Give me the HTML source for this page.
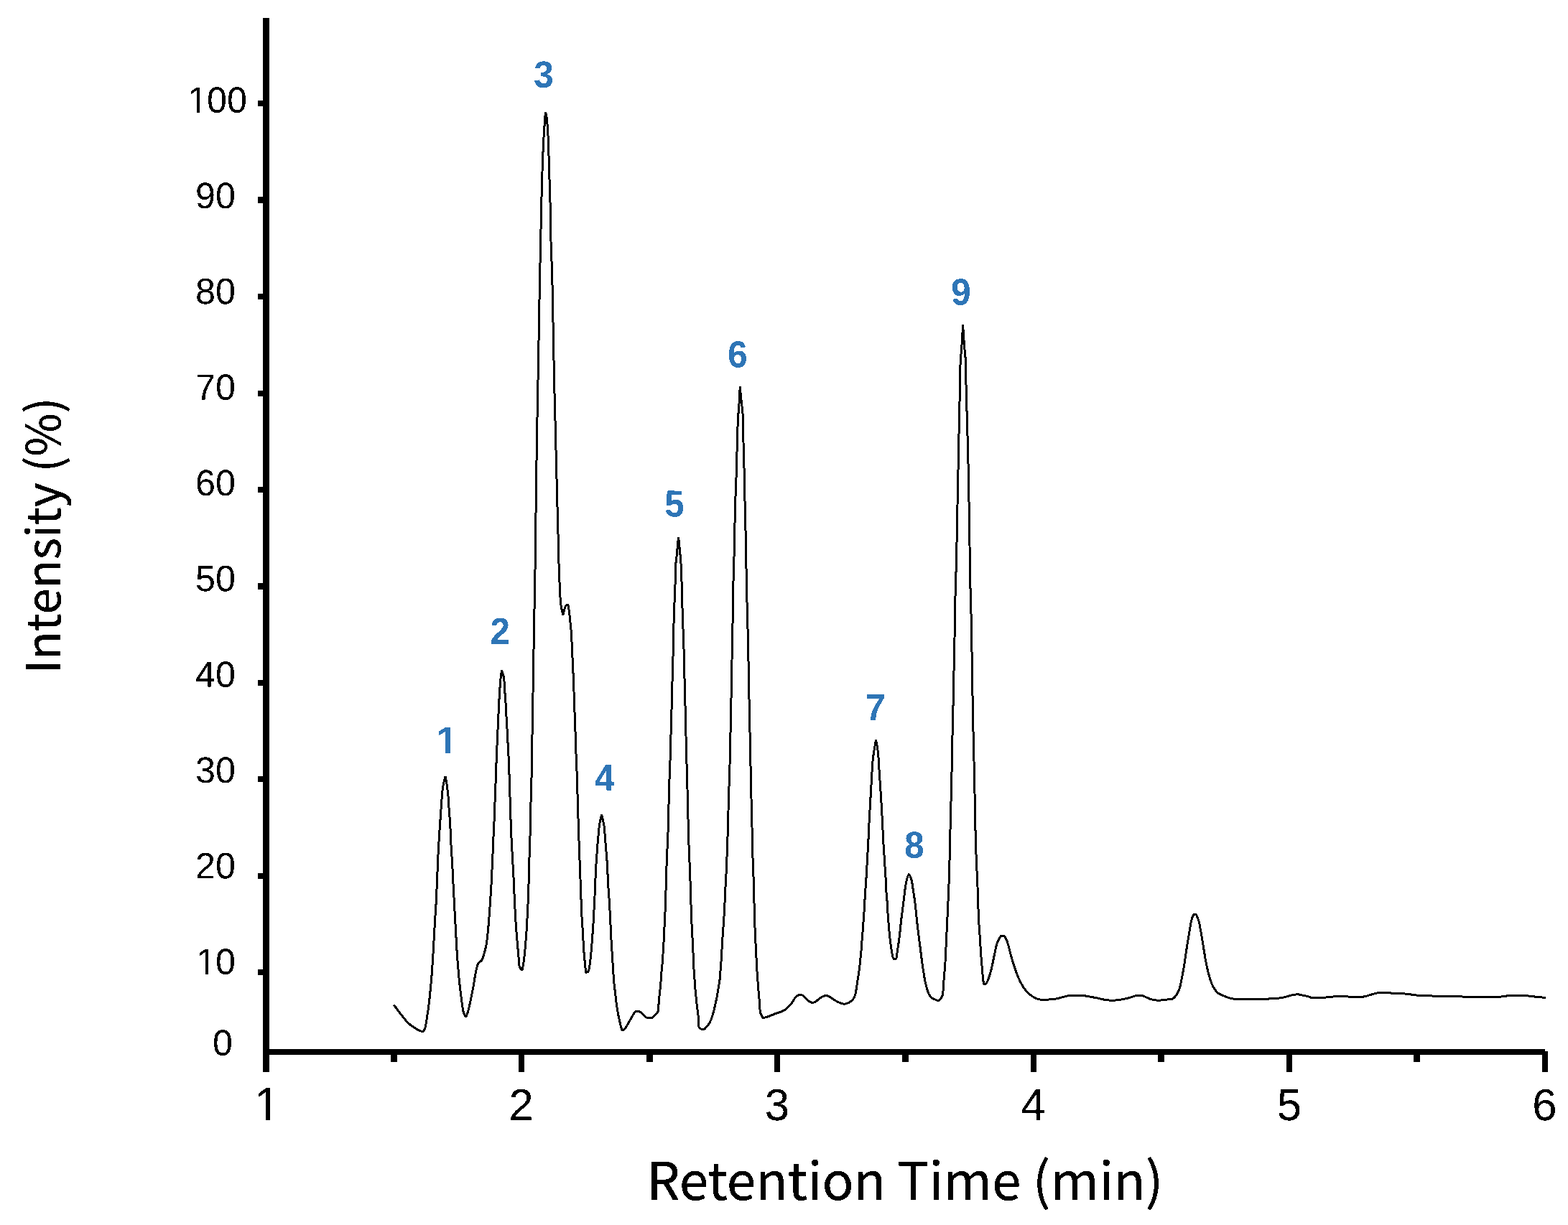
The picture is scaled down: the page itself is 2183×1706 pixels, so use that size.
<!DOCTYPE html>
<html lang="en"><head><meta charset="utf-8">
<title>Chromatogram: Intensity (%) vs Retention Time (min)</title>
<style>
html,body{margin:0;padding:0;background:#fff;}
body{width:2183px;height:1706px;overflow:hidden;}
svg{display:block;}
.ax{fill:#000;}
.yl{font-family:"Liberation Sans",sans-serif;font-size:51.2px;fill:#000;}
.xl{font-family:"Liberation Sans",sans-serif;font-size:63.5px;fill:#000;}
.pk{font-family:"Liberation Sans",sans-serif;font-size:51.0px;font-weight:bold;fill:#2e75b6;}
.tt{font-family:"Noto Sans CJK JP", "Liberation Sans", sans-serif;fill:#000;stroke:#000;stroke-width:0.35;stroke-linejoin:round;}
.e{text-anchor:end;}.m{text-anchor:middle;}
.trace{fill:none;stroke:#000;stroke-width:3.0;stroke-linejoin:bevel;stroke-linecap:butt;}
</style></head><body>
<svg width="2183" height="1706" viewBox="0 0 2183 1706" role="img" aria-label="Chromatogram">
<rect x="0" y="0" width="2183" height="1706" fill="#fff"/>
<defs>
<clipPath id="cy"><path d="M-51.20 -61.44H204.80V25.60H28.48V-5.89H18.35V25.60H13.74V-5.89H-51.20Z"/></clipPath>
<clipPath id="cx"><path d="M-63.50 -76.20H254.00V31.75H35.56V-7.30H21.62V31.75H15.91V-7.30H-63.50Z"/></clipPath>
<clipPath id="cp"><path d="M-51.00 -61.20H204.00V25.50H28.56V-7.14H18.95V25.50H11.86V-7.14H-51.00Z"/></clipPath>
<filter id="bw" filterUnits="userSpaceOnUse" x="0" y="0" width="2183" height="1706" color-interpolation-filters="sRGB"><feComponentTransfer><feFuncA type="discrete" tableValues="0 1"/></feComponentTransfer></filter>
</defs>
<g class="ax" shape-rendering="crispEdges">
<rect x="366" y="25" width="9" height="1468"/>
<rect x="366" y="1461" width="1785" height="8"/>
<rect x="359" y="140" width="8" height="8"/>
<rect x="359" y="274" width="8" height="9"/>
<rect x="359" y="409" width="8" height="8"/>
<rect x="359" y="544" width="8" height="8"/>
<rect x="359" y="678" width="8" height="8"/>
<rect x="359" y="812" width="8" height="9"/>
<rect x="359" y="947" width="8" height="8"/>
<rect x="359" y="1081" width="8" height="8"/>
<rect x="359" y="1216" width="8" height="8"/>
<rect x="359" y="1350" width="8" height="8"/>
<rect x="722" y="1461" width="8" height="32"/>
<rect x="1078" y="1461" width="8" height="32"/>
<rect x="1435" y="1461" width="8" height="32"/>
<rect x="1791" y="1461" width="8" height="32"/>
<rect x="2147" y="1464" width="8" height="29"/>
<rect x="544" y="1461" width="9" height="18"/>
<rect x="900" y="1461" width="9" height="18"/>
<rect x="1256" y="1461" width="9" height="18"/>
<rect x="1612" y="1461" width="9" height="18"/>
<rect x="1968" y="1461" width="9" height="18"/>
</g>
<g filter="url(#bw)">
<g class="yl">
<text transform="translate(260.18 156.70) rotate(0.05) scale(0.98 1)" x="0.92 28.48 56.95" clip-path="url(#cy)">100</text>
<text class="e" transform="translate(327.90 290.03) rotate(0.05) scale(0.98 1)">90</text>
<text class="e" transform="translate(327.90 423.36) rotate(0.05) scale(0.98 1)">80</text>
<text class="e" transform="translate(327.90 556.69) rotate(0.05) scale(0.98 1)">70</text>
<text class="e" transform="translate(327.90 690.02) rotate(0.05) scale(0.98 1)">60</text>
<text class="e" transform="translate(327.90 823.35) rotate(0.05) scale(0.98 1)">50</text>
<text class="e" transform="translate(327.90 956.68) rotate(0.05) scale(0.98 1)">40</text>
<text class="e" transform="translate(327.90 1090.01) rotate(0.05) scale(0.98 1)">30</text>
<text class="e" transform="translate(327.90 1223.34) rotate(0.05) scale(0.98 1)">20</text>
<text transform="translate(272.08 1356.67) rotate(0.05) scale(0.98 1)" x="0.92 28.48" clip-path="url(#cy)">10</text>
<text class="e" transform="translate(323.90 1469.80) rotate(0.05) scale(0.98 1)">0</text>
</g>
<g class="xl">
<text transform="translate(354.30 1560.25) rotate(0.05) scale(1.0 1.02)" clip-path="url(#cx)">1</text>
<text class="m" transform="translate(725.60 1560.25) rotate(0.05) scale(0.9746 1)">2</text>
<text class="m" transform="translate(1082.00 1560.25) rotate(0.05) scale(0.9746 1)">3</text>
<text class="m" transform="translate(1438.30 1560.25) rotate(0.05) scale(0.9746 1)">4</text>
<text class="m" transform="translate(1795.00 1560.25) rotate(0.05) scale(0.9746 1)">5</text>
<text class="m" transform="translate(2150.40 1560.25) rotate(0.05) scale(0.9746 1)">6</text>
</g>
<g class="pk">
<text transform="translate(606.90 1048.90) rotate(0.05) scale(1.07 1)" clip-path="url(#cp)">1</text>
<text class="m" transform="translate(696.20 897.00) rotate(0.05) scale(0.975 1)">2</text>
<text class="m" transform="translate(757.00 121.60) rotate(0.05) scale(0.975 1)">3</text>
<text class="m" transform="translate(842.00 1100.80) rotate(0.05) scale(0.975 1)">4</text>
<text class="m" transform="translate(939.00 719.50) rotate(0.05) scale(0.975 1)">5</text>
<text class="m" transform="translate(1027.00 511.50) rotate(0.05) scale(0.975 1)">6</text>
<text class="m" transform="translate(1219.00 1002.90) rotate(0.05) scale(0.975 1)">7</text>
<text class="m" transform="translate(1273.00 1194.60) rotate(0.05) scale(0.975 1)">8</text>
<text class="m" transform="translate(1338.00 424.60) rotate(0.05) scale(0.975 1)">9</text>
</g>
<text class="tt" transform="translate(900.20 1670.90) scale(1.0045 1)" font-size="72.7">Retention Time (min)</text>
<text class="tt" transform="translate(84.20 938.10) rotate(-90) scale(1.0 1)" font-size="65.3">Intensity (%)</text>
</g>
<path class="trace" shape-rendering="crispEdges" d="M548.4 1399.5C550.1 1401.7 555.2 1408.8 558.4 1412.8C561.6 1416.8 564.4 1420.8 567.4 1423.8C570.4 1426.8 573.1 1428.8 576.4 1430.9C579.7 1433.0 584.9 1436.1 587.4 1436.3C589.9 1436.5 590.4 1435.5 591.6 1432.2C592.8 1428.9 593.6 1422.3 594.5 1416.7C595.4 1411.1 596.2 1405.7 597.1 1398.6C598.0 1391.5 598.9 1382.0 599.6 1374.1C600.4 1366.1 601.0 1359.9 601.6 1350.9C602.2 1341.9 602.9 1331.0 603.5 1320.0C604.1 1309.0 604.8 1296.3 605.4 1285.1C606.0 1273.9 606.9 1262.6 607.4 1252.9C607.9 1243.2 608.1 1234.8 608.4 1227.0C608.7 1219.2 609.1 1213.5 609.4 1206.4C609.7 1199.3 609.9 1191.7 610.3 1184.4C610.7 1177.1 611.2 1169.4 611.6 1162.5C612.0 1155.6 612.4 1150.9 612.9 1143.2C613.4 1135.5 614.2 1124.0 614.8 1116.1C615.4 1108.1 615.8 1101.3 616.7 1095.5C617.6 1089.7 619.5 1083.4 620.0 1081.0C620.3 1082.8 621.2 1086.8 621.9 1091.6C622.6 1096.4 623.6 1103.8 624.1 1109.6C624.6 1115.4 624.7 1120.8 625.1 1126.4C625.5 1132.0 626.0 1137.6 626.4 1143.2C626.8 1148.8 627.0 1153.9 627.3 1159.9C627.6 1165.9 627.8 1173.1 628.1 1179.3C628.4 1185.5 628.9 1191.3 629.3 1197.3C629.7 1203.3 630.0 1209.2 630.3 1215.4C630.6 1221.6 630.7 1225.2 631.2 1234.7C631.7 1244.2 632.6 1260.1 633.2 1272.2C633.9 1284.3 634.5 1296.1 635.1 1307.1C635.7 1318.1 636.2 1327.9 637.0 1338.0C637.8 1348.1 638.7 1359.1 639.6 1367.7C640.5 1376.3 641.3 1382.9 642.2 1389.6C643.1 1396.3 643.8 1403.2 644.8 1407.7C645.8 1412.2 647.8 1415.2 648.4 1416.7C649.0 1415.2 650.8 1411.6 651.9 1407.7C653.0 1403.8 653.9 1399.1 655.1 1393.5C656.3 1387.9 657.8 1380.5 659.0 1374.1C660.2 1367.6 661.1 1360.1 662.2 1354.8C663.3 1349.5 664.0 1345.4 665.4 1342.5C666.8 1339.6 669.2 1339.7 670.6 1337.4C672.0 1335.2 672.7 1332.5 673.8 1329.0C674.9 1325.5 676.1 1320.8 677.0 1316.1C677.9 1311.4 678.4 1306.8 679.0 1300.6C679.6 1294.4 680.4 1285.4 680.9 1278.7C681.4 1272.0 681.7 1268.6 682.2 1260.6C682.7 1252.6 683.6 1239.5 684.1 1230.9C684.6 1222.3 684.8 1216.2 685.1 1208.9C685.4 1201.6 685.8 1194.3 686.1 1187.0C686.4 1179.7 686.7 1172.6 687.0 1165.1C687.3 1157.6 687.8 1149.9 688.1 1141.9C688.4 1134.0 688.7 1125.8 689.0 1117.4C689.3 1109.0 689.7 1100.2 690.0 1091.6C690.3 1083.0 690.6 1073.6 690.9 1065.8C691.2 1058.0 691.4 1051.6 691.7 1045.0C692.0 1038.4 692.3 1032.8 692.6 1026.0C692.9 1019.2 693.2 1011.0 693.5 1004.1C693.8 997.2 694.2 991.0 694.5 984.8C694.8 978.6 695.0 972.7 695.4 966.7C695.8 960.7 696.2 954.1 696.7 948.6C697.2 943.1 698.1 936.1 698.4 933.6C698.9 935.2 700.8 939.3 701.5 943.5C702.2 947.7 702.1 953.6 702.5 959.0C702.9 964.4 703.4 970.1 703.8 975.7C704.2 981.3 704.4 986.7 704.7 992.5C705.0 998.3 705.5 1004.6 705.8 1010.6C706.1 1016.6 706.4 1022.9 706.7 1028.6C707.0 1034.3 707.3 1039.9 707.6 1045.0C707.9 1050.1 708.0 1052.8 708.3 1059.3C708.6 1065.8 708.9 1075.4 709.2 1083.8C709.5 1092.2 709.7 1100.6 710.0 1109.6C710.3 1118.6 710.6 1128.8 710.9 1138.0C711.2 1147.2 711.5 1156.5 711.9 1165.1C712.3 1173.7 712.8 1182.1 713.2 1189.6C713.6 1197.1 714.0 1203.3 714.4 1210.2C714.8 1217.1 715.0 1221.6 715.4 1230.9C715.8 1240.2 716.5 1255.7 717.0 1265.8C717.5 1275.9 718.0 1283.9 718.5 1291.6C719.0 1299.3 719.7 1305.8 720.2 1312.2C720.8 1318.7 721.3 1324.7 721.8 1330.3C722.3 1335.9 722.4 1342.2 723.2 1345.8C724.1 1349.3 726.3 1350.6 726.9 1351.6C727.3 1349.3 728.6 1343.3 729.3 1338.0C730.0 1332.7 730.6 1327.1 731.2 1320.0C731.8 1312.9 732.6 1303.5 733.1 1295.5C733.6 1287.5 734.0 1279.5 734.4 1272.2C734.8 1265.0 735.0 1258.7 735.3 1252.0C735.6 1245.3 735.7 1240.9 736.0 1232.0C736.3 1223.1 736.6 1209.8 736.9 1198.6C737.2 1187.4 737.7 1178.0 738.0 1165.1C738.3 1152.2 738.5 1136.0 738.9 1121.2C739.3 1106.4 739.9 1088.8 740.2 1076.1C740.5 1063.4 740.5 1055.9 740.7 1045.0C740.9 1034.1 741.0 1022.8 741.2 1010.6C741.4 998.4 741.7 984.8 741.9 971.9C742.1 959.0 742.3 946.1 742.5 933.2C742.7 920.3 743.0 907.4 743.2 894.5C743.4 881.6 743.6 866.5 743.8 855.8C744.0 845.0 744.3 842.6 744.5 830.0C744.7 817.4 745.0 793.5 745.2 780.0C745.4 766.5 745.3 765.5 745.5 748.9C745.7 732.3 746.2 703.5 746.5 680.6C746.8 657.7 747.1 631.7 747.4 611.6C747.7 591.5 748.1 579.5 748.5 560.0C748.9 540.5 749.2 514.8 749.6 494.4C750.0 474.0 750.4 456.4 750.7 437.7C751.0 419.0 751.3 396.8 751.6 382.2C751.9 367.6 752.1 364.4 752.4 350.0C752.7 335.6 753.1 312.1 753.5 296.0C753.9 279.9 754.1 266.0 754.5 253.5C754.9 241.0 755.3 229.8 755.6 221.2C755.9 212.6 756.2 208.6 756.5 201.9C756.8 195.2 757.1 188.9 757.6 181.3C758.1 173.7 759.1 160.3 759.4 156.1C759.7 157.3 760.6 160.7 761.0 163.2C761.4 165.7 761.5 168.4 761.7 171.0C762.0 173.6 762.2 174.0 762.5 178.7C762.8 183.4 763.1 190.5 763.4 199.3C763.7 208.1 764.2 220.8 764.5 231.6C764.8 242.3 765.1 253.4 765.4 263.8C765.7 274.2 766.1 282.1 766.4 294.1C766.7 306.1 766.8 325.9 767.0 336.0C767.2 346.1 767.3 347.9 767.6 355.0C767.9 362.1 768.3 367.4 768.6 378.4C768.9 389.4 769.2 406.5 769.5 420.9C769.8 435.3 770.0 449.8 770.3 464.8C770.6 479.9 770.9 495.3 771.2 511.2C771.5 527.1 771.9 544.6 772.3 560.0C772.7 575.4 773.1 589.7 773.5 603.8C773.9 617.9 774.1 631.6 774.4 644.5C774.7 657.4 775.1 669.1 775.4 681.2C775.7 693.3 776.0 705.0 776.3 717.3C776.6 729.5 777.0 744.2 777.3 754.7C777.5 765.2 777.4 767.5 777.8 780.0C778.2 792.5 779.3 819.3 779.9 830.0C780.5 840.7 780.6 839.8 781.2 844.2C781.9 848.6 783.4 854.4 783.8 856.4C784.2 854.8 785.6 849.0 786.4 846.8C787.1 844.5 787.5 843.5 788.3 842.9C789.0 842.2 790.2 841.6 790.9 842.9C791.5 844.2 791.7 847.2 792.2 850.6C792.7 854.0 793.2 858.3 793.7 863.5C794.2 868.7 795.0 875.1 795.4 881.6C795.8 888.1 796.1 895.3 796.4 902.2C796.7 909.1 797.0 915.6 797.3 922.9C797.6 930.2 798.1 937.9 798.4 946.1C798.7 954.3 799.0 963.3 799.3 971.9C799.6 980.5 799.9 989.1 800.2 997.7C800.5 1006.3 801.0 1016.4 801.2 1023.4C801.4 1030.5 801.3 1031.7 801.6 1040.0C801.9 1048.3 802.6 1062.5 803.0 1073.5C803.4 1084.5 803.7 1095.3 804.0 1105.8C804.3 1116.3 804.6 1126.4 804.9 1136.7C805.2 1147.0 805.6 1158.0 805.9 1167.7C806.2 1177.4 806.5 1185.3 806.9 1194.8C807.2 1204.2 807.7 1216.9 808.0 1224.4C808.3 1231.9 808.3 1232.2 808.6 1240.0C808.9 1247.8 809.3 1262.4 809.7 1271.0C810.1 1279.6 810.6 1285.2 811.0 1291.6C811.4 1298.0 811.6 1303.6 812.0 1309.6C812.4 1315.6 812.7 1322.1 813.1 1327.7C813.5 1333.3 814.2 1338.9 814.6 1343.2C815.0 1347.5 815.2 1351.7 815.5 1353.5C815.8 1355.3 815.8 1354.4 816.5 1354.1C817.2 1353.8 818.7 1354.5 819.6 1351.6C820.5 1348.7 821.2 1342.4 821.9 1336.7C822.6 1331.0 823.3 1323.6 823.8 1317.4C824.3 1311.2 824.7 1305.1 825.1 1299.3C825.5 1293.5 825.9 1288.2 826.2 1282.6C826.5 1277.0 826.8 1271.6 827.1 1265.8C827.4 1260.0 827.7 1253.7 828.0 1247.7C828.3 1241.7 828.4 1236.1 828.7 1229.6C829.0 1223.1 829.4 1214.7 829.7 1208.9C830.0 1203.1 830.3 1199.3 830.6 1194.8C830.9 1190.3 831.2 1186.2 831.5 1181.9C831.8 1177.6 832.2 1173.3 832.6 1169.0C833.0 1164.7 833.2 1160.0 833.6 1156.1C834.0 1152.2 834.5 1149.3 835.1 1145.8C835.8 1142.2 837.1 1136.6 837.5 1134.8C837.9 1136.2 839.1 1140.3 839.7 1143.2C840.3 1146.1 840.9 1148.8 841.3 1152.2C841.7 1155.6 841.9 1159.9 842.2 1163.8C842.5 1167.7 842.8 1171.3 843.1 1175.4C843.4 1179.5 843.9 1184.0 844.2 1188.3C844.6 1192.6 844.9 1196.0 845.2 1201.2C845.5 1206.4 845.8 1213.1 846.1 1219.3C846.4 1225.5 846.7 1232.3 847.1 1238.6C847.5 1244.8 848.0 1250.1 848.4 1256.8C848.8 1263.5 849.2 1270.3 849.6 1278.7C850.0 1287.1 850.5 1298.9 850.9 1307.1C851.3 1315.3 851.8 1320.8 852.2 1327.7C852.6 1334.6 853.1 1341.6 853.5 1348.3C853.9 1355.0 854.3 1361.7 854.8 1367.7C855.3 1373.7 856.1 1378.8 856.7 1384.4C857.4 1390.0 858.0 1396.0 858.7 1401.2C859.5 1406.4 860.4 1411.1 861.2 1415.4C862.1 1419.7 863.0 1423.7 863.8 1427.0C864.6 1430.3 865.7 1434.0 866.1 1435.4C866.8 1434.9 868.8 1434.1 870.3 1432.2C871.8 1430.3 873.8 1426.5 875.4 1423.8C877.0 1421.1 878.5 1418.4 879.9 1416.0C881.3 1413.6 882.4 1410.9 883.8 1409.6C885.2 1408.3 886.9 1408.2 888.3 1408.3C889.7 1408.4 890.9 1409.1 892.2 1410.0C893.5 1410.9 894.8 1412.3 896.1 1413.5C897.4 1414.7 898.5 1416.2 899.9 1416.9C901.3 1417.7 903.3 1418.0 904.8 1418.0C906.3 1418.0 907.7 1417.6 909.0 1416.7C910.3 1415.8 911.6 1414.2 912.8 1412.8C914.0 1411.4 915.4 1410.9 916.1 1408.3C916.8 1405.7 916.8 1400.8 917.1 1397.3C917.4 1393.8 917.6 1390.7 918.0 1387.0C918.4 1383.3 918.9 1379.5 919.3 1375.4C919.7 1371.3 920.0 1366.6 920.3 1362.5C920.6 1358.4 920.8 1355.0 921.2 1350.9C921.6 1346.8 922.2 1342.3 922.5 1338.0C922.8 1333.7 922.9 1330.0 923.2 1325.1C923.5 1320.2 923.9 1314.4 924.2 1308.4C924.5 1302.4 924.8 1295.7 925.1 1289.0C925.4 1282.3 925.8 1274.6 926.1 1268.4C926.4 1262.2 926.5 1259.2 926.7 1252.0C926.9 1244.8 927.1 1235.2 927.4 1225.0C927.7 1214.8 928.2 1201.3 928.6 1190.9C929.0 1180.5 929.5 1172.8 929.9 1162.5C930.3 1152.2 930.5 1141.5 930.8 1129.0C931.1 1116.5 931.6 1097.5 931.9 1087.7C932.2 1077.9 932.5 1076.6 932.7 1070.0C932.9 1063.4 933.0 1058.4 933.3 1048.3C933.6 1038.2 934.0 1022.1 934.4 1009.6C934.8 997.1 935.1 985.5 935.4 973.5C935.7 961.5 936.0 949.4 936.3 937.4C936.6 925.4 937.1 912.7 937.4 901.3C937.7 889.9 937.8 878.8 938.0 868.9C938.2 859.0 938.6 850.8 938.9 841.8C939.2 832.8 939.7 823.6 940.0 814.8C940.3 806.0 940.3 795.5 940.6 789.0C940.9 782.5 941.5 780.0 941.9 776.1C942.3 772.2 942.5 770.4 942.9 765.7C943.3 761.0 944.2 750.7 944.5 747.7C944.8 750.3 945.7 758.9 946.1 763.2C946.5 767.5 946.8 769.6 947.1 773.5C947.4 777.4 947.8 780.4 948.1 786.4C948.4 792.4 948.7 800.1 949.0 809.6C949.3 819.1 949.6 832.8 949.9 843.1C950.2 853.4 950.5 865.4 950.7 871.5C950.9 877.6 951.0 873.3 951.3 880.0C951.5 886.7 951.9 900.1 952.2 911.6C952.5 923.1 952.8 936.5 953.1 949.0C953.4 961.5 953.8 973.7 954.1 986.4C954.4 999.1 954.7 1012.8 955.0 1025.1C955.3 1037.4 955.6 1047.6 955.9 1060.0C956.2 1072.4 956.7 1086.5 957.0 1099.3C957.3 1112.1 957.6 1124.2 957.9 1136.7C958.2 1149.2 958.5 1162.7 958.9 1174.1C959.3 1185.5 959.8 1195.0 960.2 1205.1C960.6 1215.2 961.0 1225.0 961.3 1234.7C961.6 1244.4 961.8 1254.2 962.1 1263.2C962.4 1272.2 962.8 1281.3 963.1 1289.0C963.5 1296.7 963.9 1302.9 964.2 1309.6C964.5 1316.3 964.8 1322.3 965.1 1329.0C965.4 1335.7 965.7 1343.8 966.0 1349.6C966.3 1355.4 966.7 1359.1 967.0 1363.8C967.3 1368.5 967.6 1373.7 968.0 1378.0C968.4 1382.3 968.8 1385.5 969.2 1389.6C969.6 1393.7 970.1 1398.8 970.5 1402.5C970.9 1406.2 971.5 1408.5 971.8 1411.5C972.1 1414.5 972.2 1417.6 972.4 1420.6C972.6 1423.6 972.4 1427.6 972.8 1429.6C973.2 1431.6 973.8 1431.9 974.7 1432.5C975.6 1433.1 976.9 1433.4 978.0 1433.4C979.1 1433.5 980.1 1433.5 981.2 1432.8C982.3 1432.0 983.3 1430.2 984.4 1428.9C985.5 1427.6 986.6 1426.7 987.6 1425.1C988.6 1423.5 989.3 1421.6 990.2 1419.3C991.1 1417.0 992.0 1414.1 992.8 1411.5C993.5 1408.9 994.1 1406.6 994.7 1403.8C995.4 1401.0 996.1 1397.8 996.7 1394.8C997.4 1391.8 998.0 1389.2 998.6 1385.7C999.2 1382.2 999.9 1377.8 1000.5 1374.1C1001.1 1370.4 1001.7 1367.7 1002.1 1363.8C1002.5 1359.9 1002.8 1355.2 1003.1 1350.9C1003.4 1346.6 1003.8 1342.7 1004.1 1338.0C1004.4 1333.3 1004.7 1327.7 1005.0 1322.5C1005.3 1317.3 1005.6 1312.2 1005.9 1307.1C1006.2 1301.9 1006.6 1296.8 1007.0 1291.6C1007.4 1286.4 1007.7 1281.5 1008.0 1276.1C1008.3 1270.7 1008.6 1265.8 1008.9 1259.3C1009.2 1252.8 1009.5 1244.8 1009.9 1237.3C1010.3 1229.8 1010.8 1221.8 1011.2 1214.1C1011.6 1206.4 1011.8 1199.5 1012.1 1190.9C1012.4 1182.3 1012.8 1172.8 1013.1 1162.5C1013.4 1152.2 1013.7 1140.2 1014.0 1129.0C1014.3 1117.8 1014.7 1106.2 1015.0 1095.5C1015.3 1084.8 1015.6 1078.3 1016.0 1065.1C1016.4 1051.8 1016.8 1032.1 1017.1 1016.0C1017.5 999.9 1017.8 984.4 1018.1 968.3C1018.4 952.2 1018.7 934.7 1019.0 919.3C1019.3 903.9 1019.6 891.5 1019.9 876.0C1020.2 860.5 1020.3 842.4 1020.6 826.4C1020.9 810.4 1021.5 794.9 1021.9 779.9C1022.3 764.9 1022.5 749.6 1022.8 736.1C1023.1 722.6 1023.5 709.7 1023.8 698.7C1024.1 687.7 1024.4 675.8 1024.6 670.0C1024.8 664.2 1024.8 671.3 1025.1 663.8C1025.3 656.3 1025.8 636.7 1026.1 625.1C1026.4 613.5 1026.7 602.1 1027.0 594.1C1027.3 586.1 1027.6 582.8 1027.9 577.4C1028.2 572.0 1028.6 568.5 1029.0 561.9C1029.4 555.3 1030.1 542.0 1030.3 538.0C1030.5 540.9 1031.3 550.6 1031.8 555.4C1032.3 560.2 1032.7 563.3 1033.1 567.0C1033.5 570.7 1033.8 569.2 1034.1 577.4C1034.4 585.6 1034.7 603.2 1035.0 616.1C1035.3 629.0 1035.8 645.7 1036.1 654.7C1036.4 663.7 1036.5 663.5 1036.6 670.0C1036.7 676.5 1036.7 682.0 1036.9 693.5C1037.1 705.0 1037.7 723.2 1038.0 738.7C1038.3 754.2 1038.6 770.5 1038.9 786.4C1039.2 802.3 1039.6 821.5 1039.9 834.1C1040.2 846.7 1040.4 854.0 1040.6 862.0C1040.8 870.0 1040.9 870.5 1041.2 881.9C1041.5 893.3 1041.9 914.2 1042.2 930.3C1042.5 946.4 1042.8 962.4 1043.1 978.6C1043.4 994.8 1043.9 1012.2 1044.2 1027.7C1044.5 1043.2 1044.8 1057.4 1045.1 1071.5C1045.4 1085.6 1045.7 1098.8 1046.0 1112.2C1046.3 1125.7 1046.7 1138.9 1047.0 1152.2C1047.3 1165.5 1047.5 1180.0 1047.9 1192.2C1048.3 1204.5 1048.8 1213.4 1049.2 1225.7C1049.6 1238.0 1049.9 1254.8 1050.2 1265.8C1050.5 1276.8 1050.7 1283.0 1051.0 1291.6C1051.3 1300.2 1051.8 1309.7 1052.2 1317.4C1052.6 1325.1 1052.9 1331.5 1053.2 1338.0C1053.5 1344.5 1053.8 1350.3 1054.2 1356.1C1054.6 1361.9 1055.0 1367.4 1055.4 1372.8C1055.8 1378.2 1056.4 1383.6 1056.8 1388.3C1057.2 1393.0 1057.4 1397.5 1057.7 1401.2C1058.0 1404.9 1057.8 1407.5 1058.6 1410.2C1059.3 1413.0 1061.6 1416.5 1062.2 1417.7C1063.3 1417.4 1065.9 1417.0 1068.7 1416.0C1071.5 1415.0 1075.2 1413.4 1079.0 1411.9C1082.8 1410.5 1087.6 1409.5 1091.3 1407.3C1095.0 1405.1 1098.2 1401.6 1100.9 1398.6C1103.6 1395.5 1105.7 1391.1 1107.4 1389.0C1109.1 1386.9 1109.6 1386.5 1111.2 1386.0C1112.8 1385.5 1115.1 1385.1 1117.1 1386.0C1119.0 1386.9 1121.1 1389.9 1122.9 1391.5C1124.7 1393.1 1126.5 1394.6 1128.0 1395.4C1129.5 1396.2 1130.6 1396.4 1131.9 1396.3C1133.2 1396.2 1134.1 1395.9 1135.8 1394.8C1137.5 1393.7 1140.0 1391.0 1142.2 1389.6C1144.4 1388.2 1146.9 1387.0 1148.7 1386.6C1150.5 1386.2 1151.5 1386.6 1153.2 1387.3C1154.9 1388.0 1157.0 1389.7 1159.0 1390.9C1161.0 1392.2 1163.2 1393.7 1165.4 1394.8C1167.6 1395.9 1170.0 1397.1 1171.9 1397.6C1173.8 1398.1 1175.3 1398.3 1177.0 1398.0C1178.7 1397.7 1180.5 1397.0 1182.2 1396.0C1183.9 1395.0 1185.9 1393.9 1187.3 1392.2C1188.7 1390.5 1189.7 1388.5 1190.6 1385.7C1191.5 1382.9 1191.9 1379.3 1192.5 1375.4C1193.1 1371.5 1193.8 1366.8 1194.4 1362.5C1195.1 1358.2 1195.8 1354.1 1196.4 1349.6C1197.0 1345.1 1197.4 1339.9 1197.9 1335.4C1198.4 1330.9 1198.8 1327.2 1199.2 1322.5C1199.6 1317.8 1199.8 1312.2 1200.2 1307.1C1200.6 1301.9 1201.1 1297.2 1201.5 1291.6C1201.9 1286.0 1202.4 1279.3 1202.8 1273.5C1203.2 1267.7 1203.5 1262.4 1203.8 1256.8C1204.1 1251.2 1204.4 1244.3 1204.7 1240.0C1205.0 1235.7 1205.2 1236.1 1205.5 1231.2C1205.8 1226.3 1206.3 1217.9 1206.7 1210.6C1207.1 1203.3 1207.6 1194.6 1208.0 1187.3C1208.4 1180.0 1208.8 1173.6 1209.1 1166.7C1209.4 1159.8 1209.6 1153.4 1210.0 1146.1C1210.4 1138.8 1210.9 1130.2 1211.3 1122.9C1211.7 1115.6 1212.1 1109.0 1212.5 1102.2C1212.9 1095.4 1213.3 1087.4 1213.6 1081.9C1213.9 1076.4 1214.1 1073.3 1214.4 1069.0C1214.7 1064.7 1214.9 1060.4 1215.4 1056.1C1215.9 1051.8 1216.6 1047.5 1217.3 1043.2C1218.0 1038.9 1219.1 1032.5 1219.5 1030.3C1219.8 1032.0 1220.9 1036.7 1221.5 1040.6C1222.1 1044.5 1222.5 1048.8 1222.9 1053.5C1223.3 1058.2 1223.5 1064.3 1223.8 1069.0C1224.1 1073.7 1224.4 1077.2 1224.7 1081.9C1225.0 1086.6 1225.4 1091.9 1225.7 1097.3C1226.0 1102.7 1226.5 1108.5 1226.8 1114.1C1227.1 1119.7 1227.4 1125.5 1227.7 1130.9C1228.0 1136.3 1228.3 1140.8 1228.6 1146.3C1228.9 1151.8 1229.0 1157.7 1229.3 1164.1C1229.6 1170.5 1230.2 1177.9 1230.6 1184.8C1231.0 1191.7 1231.5 1198.8 1231.9 1205.4C1232.3 1212.1 1232.9 1218.9 1233.2 1224.7C1233.5 1230.5 1233.5 1234.9 1233.8 1240.0C1234.1 1245.1 1234.7 1249.5 1235.1 1255.5C1235.5 1261.5 1235.8 1269.4 1236.3 1276.1C1236.8 1282.8 1237.4 1289.5 1237.9 1295.5C1238.5 1301.5 1239.0 1307.3 1239.6 1312.2C1240.2 1317.1 1240.9 1321.4 1241.5 1325.1C1242.1 1328.8 1242.8 1332.3 1243.4 1334.1C1244.0 1335.9 1244.3 1335.6 1245.1 1335.7C1245.8 1335.8 1247.2 1336.6 1247.9 1334.8C1248.6 1333.0 1248.7 1328.9 1249.2 1325.1C1249.8 1321.3 1250.6 1316.9 1251.2 1312.2C1251.8 1307.5 1252.5 1302.3 1253.1 1296.7C1253.7 1291.1 1254.3 1284.3 1255.0 1278.7C1255.7 1273.1 1256.3 1268.4 1257.0 1263.2C1257.7 1258.0 1258.4 1251.6 1258.9 1247.7C1259.4 1243.8 1259.4 1242.8 1259.8 1240.0C1260.2 1237.2 1260.7 1234.0 1261.2 1231.2C1261.7 1228.4 1262.1 1225.7 1262.8 1223.4C1263.5 1221.1 1264.5 1217.8 1265.4 1217.6C1266.3 1217.4 1267.2 1220.2 1268.0 1222.2C1268.8 1224.2 1269.4 1227.1 1269.9 1229.9C1270.4 1232.7 1270.6 1234.6 1271.2 1238.9C1271.8 1243.2 1273.0 1249.7 1273.7 1255.5C1274.5 1261.3 1275.1 1267.5 1275.7 1273.5C1276.3 1279.5 1276.8 1285.1 1277.6 1291.6C1278.3 1298.0 1279.3 1305.3 1280.2 1312.2C1281.1 1319.1 1282.0 1326.5 1282.8 1332.9C1283.6 1339.4 1284.4 1345.3 1285.3 1350.9C1286.2 1356.5 1287.0 1362.1 1287.9 1366.4C1288.8 1370.7 1289.6 1373.7 1290.5 1376.7C1291.4 1379.7 1292.0 1382.2 1293.1 1384.4C1294.2 1386.6 1295.6 1388.3 1297.0 1389.6C1298.4 1390.8 1300.0 1391.2 1301.6 1391.9C1303.2 1392.6 1305.3 1393.9 1306.8 1393.5C1308.3 1393.1 1309.6 1391.1 1310.6 1389.6C1311.6 1388.1 1312.1 1387.4 1312.6 1384.4C1313.1 1381.4 1313.2 1375.8 1313.5 1371.5C1313.8 1367.2 1314.1 1363.3 1314.5 1358.6C1314.9 1353.9 1315.4 1349.0 1315.8 1343.2C1316.2 1337.4 1316.5 1330.2 1316.8 1323.8C1317.1 1317.3 1317.4 1311.0 1317.7 1304.5C1318.0 1298.0 1318.3 1292.0 1318.6 1285.1C1318.9 1278.2 1319.4 1270.2 1319.7 1263.2C1320.0 1256.2 1320.2 1249.6 1320.5 1243.0C1320.8 1236.4 1321.0 1232.0 1321.3 1223.4C1321.6 1214.8 1321.9 1201.9 1322.2 1191.2C1322.5 1180.5 1322.6 1170.8 1322.9 1159.0C1323.2 1147.2 1323.6 1133.5 1323.9 1120.5C1324.2 1107.5 1324.6 1094.4 1324.9 1081.0C1325.2 1067.6 1325.4 1053.5 1325.7 1040.0C1326.0 1026.5 1326.2 1010.8 1326.5 1000.0C1326.8 989.2 1327.0 985.1 1327.2 975.0C1327.4 964.9 1327.6 953.8 1327.9 939.3C1328.2 924.8 1328.7 904.8 1329.0 887.7C1329.3 870.6 1329.6 850.6 1329.9 836.8C1330.2 823.0 1330.3 813.7 1330.6 805.0C1330.9 796.3 1331.2 796.9 1331.5 784.7C1331.8 772.5 1332.1 749.3 1332.4 731.9C1332.7 714.5 1333.2 696.6 1333.5 680.3C1333.8 663.9 1334.1 648.0 1334.4 633.8C1334.7 619.6 1334.9 608.1 1335.2 595.0C1335.5 581.9 1335.8 568.7 1336.1 555.4C1336.3 542.1 1336.4 525.7 1336.7 515.4C1337.0 505.1 1337.6 500.2 1338.0 493.5C1338.4 486.8 1338.9 482.3 1339.3 475.4C1339.7 468.5 1340.4 456.1 1340.6 452.2C1340.8 455.6 1341.5 466.7 1341.9 472.9C1342.3 479.1 1342.8 484.5 1343.2 489.6C1343.6 494.8 1344.1 495.4 1344.4 503.8C1344.7 512.2 1344.8 526.4 1345.1 539.9C1345.4 553.4 1346.0 572.0 1346.4 585.0C1346.8 598.0 1347.0 605.6 1347.3 617.7C1347.6 629.8 1348.0 642.4 1348.3 657.7C1348.6 673.0 1348.9 692.2 1349.2 709.3C1349.5 726.4 1349.8 744.2 1350.0 760.2C1350.2 776.2 1350.2 788.0 1350.6 805.0C1351.0 822.0 1351.8 843.9 1352.2 861.9C1352.6 879.9 1352.8 896.0 1353.1 912.8C1353.4 929.6 1353.6 945.8 1353.9 962.5C1354.2 979.2 1354.5 1002.4 1354.8 1012.8C1355.0 1023.2 1355.2 1017.1 1355.4 1025.0C1355.6 1032.9 1355.7 1046.7 1356.0 1060.0C1356.3 1073.3 1356.7 1089.6 1357.0 1105.0C1357.3 1120.4 1357.6 1138.8 1357.9 1152.5C1358.2 1166.2 1358.5 1176.5 1358.9 1187.3C1359.3 1198.0 1359.8 1208.2 1360.2 1217.0C1360.6 1225.8 1360.9 1231.9 1361.2 1240.0C1361.5 1248.1 1361.7 1258.1 1362.0 1265.8C1362.3 1273.5 1362.5 1280.0 1362.9 1286.4C1363.3 1292.9 1363.8 1298.9 1364.2 1304.5C1364.6 1310.1 1364.8 1315.1 1365.1 1320.0C1365.4 1324.9 1365.7 1329.2 1366.1 1334.1C1366.5 1339.0 1367.0 1344.6 1367.4 1349.6C1367.8 1354.5 1368.3 1360.3 1368.7 1363.8C1369.1 1367.2 1369.2 1369.2 1369.6 1370.3C1370.0 1371.4 1370.6 1370.6 1371.2 1370.5C1371.8 1370.4 1372.3 1370.9 1373.2 1369.6C1374.1 1368.3 1375.3 1365.4 1376.4 1362.5C1377.5 1359.6 1378.6 1355.9 1379.6 1352.2C1380.6 1348.5 1381.3 1344.7 1382.2 1340.6C1383.1 1336.5 1383.9 1331.8 1384.8 1327.7C1385.7 1323.6 1386.6 1319.1 1387.4 1316.1C1388.2 1313.1 1388.9 1311.6 1389.9 1309.6C1390.9 1307.5 1392.2 1304.9 1393.2 1303.8C1394.2 1302.7 1395.0 1303.2 1395.8 1303.2C1396.6 1303.2 1397.3 1302.7 1398.3 1303.8C1399.3 1304.9 1400.6 1307.3 1401.6 1309.6C1402.6 1311.9 1403.2 1314.4 1404.1 1317.4C1404.9 1320.4 1405.7 1324.1 1406.7 1327.7C1407.7 1331.3 1408.7 1335.4 1409.9 1339.3C1411.1 1343.2 1412.5 1347.2 1413.8 1350.9C1415.1 1354.6 1416.2 1357.8 1417.7 1361.2C1419.2 1364.6 1421.1 1368.5 1422.8 1371.5C1424.5 1374.5 1426.3 1377.1 1428.0 1379.3C1429.7 1381.5 1431.3 1382.8 1433.2 1384.4C1435.1 1386.0 1437.2 1387.8 1439.6 1389.0C1441.9 1390.2 1444.3 1391.4 1447.3 1391.9C1450.3 1392.4 1453.8 1392.4 1457.7 1392.2C1461.6 1392.0 1466.7 1391.6 1470.6 1390.9C1474.5 1390.2 1477.7 1389.0 1480.9 1388.3C1484.1 1387.5 1485.6 1386.7 1489.9 1386.4C1494.2 1386.1 1502.2 1386.1 1506.7 1386.4C1511.2 1386.7 1513.3 1387.4 1517.0 1388.0C1520.7 1388.6 1525.2 1389.5 1528.6 1390.2C1532.0 1390.9 1534.5 1391.7 1537.6 1392.2C1540.7 1392.7 1543.8 1393.1 1547.0 1393.2C1550.2 1393.3 1552.8 1393.2 1557.0 1392.6C1561.2 1392.0 1568.2 1390.6 1572.2 1389.6C1576.2 1388.6 1578.3 1387.1 1581.3 1386.6C1584.3 1386.1 1587.5 1386.0 1590.3 1386.6C1593.1 1387.1 1595.6 1389.0 1598.0 1389.9C1600.4 1390.8 1601.9 1391.7 1604.5 1392.2C1607.1 1392.8 1610.5 1393.2 1613.5 1393.2C1616.5 1393.2 1619.4 1392.6 1622.5 1392.2C1625.6 1391.8 1629.8 1392.0 1632.2 1391.1C1634.6 1390.2 1635.3 1388.8 1636.7 1387.0C1638.1 1385.2 1639.5 1383.0 1640.6 1380.6C1641.7 1378.2 1642.5 1375.6 1643.2 1372.8C1644.0 1370.0 1644.5 1367.0 1645.1 1363.8C1645.7 1360.6 1646.3 1357.2 1647.0 1353.5C1647.7 1349.8 1648.3 1346.0 1649.0 1341.9C1649.7 1337.8 1650.3 1333.3 1650.9 1329.0C1651.5 1324.7 1652.2 1320.2 1652.8 1316.1C1653.4 1312.0 1654.1 1308.4 1654.8 1304.5C1655.5 1300.6 1656.1 1296.6 1656.7 1292.9C1657.3 1289.2 1657.8 1285.6 1658.6 1282.6C1659.3 1279.6 1660.2 1276.3 1661.2 1274.8C1662.2 1273.2 1663.5 1272.9 1664.5 1273.3C1665.5 1273.7 1666.2 1275.4 1667.0 1277.4C1667.8 1279.4 1668.8 1282.1 1669.6 1285.1C1670.3 1288.1 1670.8 1291.8 1671.5 1295.5C1672.2 1299.2 1672.8 1303.2 1673.5 1307.1C1674.2 1311.0 1674.8 1314.8 1675.4 1318.7C1676.0 1322.6 1676.7 1326.4 1677.3 1330.3C1677.9 1334.2 1678.5 1338.0 1679.3 1341.9C1680.1 1345.8 1681.1 1350.1 1681.9 1353.5C1682.8 1356.9 1683.4 1359.5 1684.4 1362.5C1685.4 1365.5 1686.6 1369.0 1687.7 1371.5C1688.8 1374.0 1689.5 1375.3 1690.9 1377.3C1692.3 1379.2 1693.8 1381.6 1696.0 1383.2C1698.2 1384.8 1701.0 1385.8 1703.8 1387.0C1706.6 1388.2 1709.6 1389.5 1712.8 1390.2C1716.0 1391.0 1717.5 1391.3 1723.1 1391.5C1728.7 1391.7 1739.4 1391.6 1746.3 1391.5C1753.2 1391.4 1758.8 1391.3 1764.4 1391.1C1770.0 1390.9 1775.8 1390.6 1779.9 1390.2C1784.0 1389.8 1785.9 1389.3 1788.9 1388.6C1791.9 1387.9 1795.0 1386.7 1797.9 1386.1C1800.8 1385.5 1803.8 1384.8 1806.4 1384.8C1809.0 1384.8 1811.0 1385.6 1813.6 1386.1C1816.2 1386.6 1819.9 1387.5 1822.1 1388.0C1824.3 1388.5 1822.8 1389.1 1826.6 1389.3C1830.4 1389.5 1839.5 1389.4 1845.0 1389.1C1850.5 1388.8 1854.7 1387.9 1859.6 1387.7C1864.5 1387.5 1869.7 1387.6 1874.3 1387.8C1878.9 1388.0 1883.1 1388.9 1887.1 1388.9C1891.1 1389.0 1894.7 1388.6 1898.1 1388.1C1901.5 1387.6 1903.9 1386.6 1907.3 1385.7C1910.7 1384.8 1914.5 1383.2 1918.3 1382.7C1922.1 1382.2 1925.6 1382.6 1930.2 1382.7C1934.8 1382.8 1941.1 1383.4 1945.7 1383.6C1950.3 1383.8 1954.3 1383.8 1957.7 1384.1C1961.1 1384.4 1963.0 1384.8 1965.9 1385.2C1968.8 1385.6 1970.3 1386.0 1975.0 1386.3C1979.7 1386.6 1982.7 1386.7 1993.8 1387.0C2004.9 1387.3 2025.8 1387.9 2041.5 1388.1C2057.2 1388.3 2078.3 1388.3 2088.2 1388.1C2098.1 1387.8 2095.3 1386.8 2101.0 1386.6C2106.7 1386.3 2116.4 1386.4 2122.1 1386.6C2127.8 1386.8 2131.4 1387.4 2134.9 1387.8C2138.4 1388.2 2140.4 1388.7 2143.2 1388.9C2146.0 1389.1 2150.4 1389.0 2151.9 1389.0"/>
</svg>
</body></html>
